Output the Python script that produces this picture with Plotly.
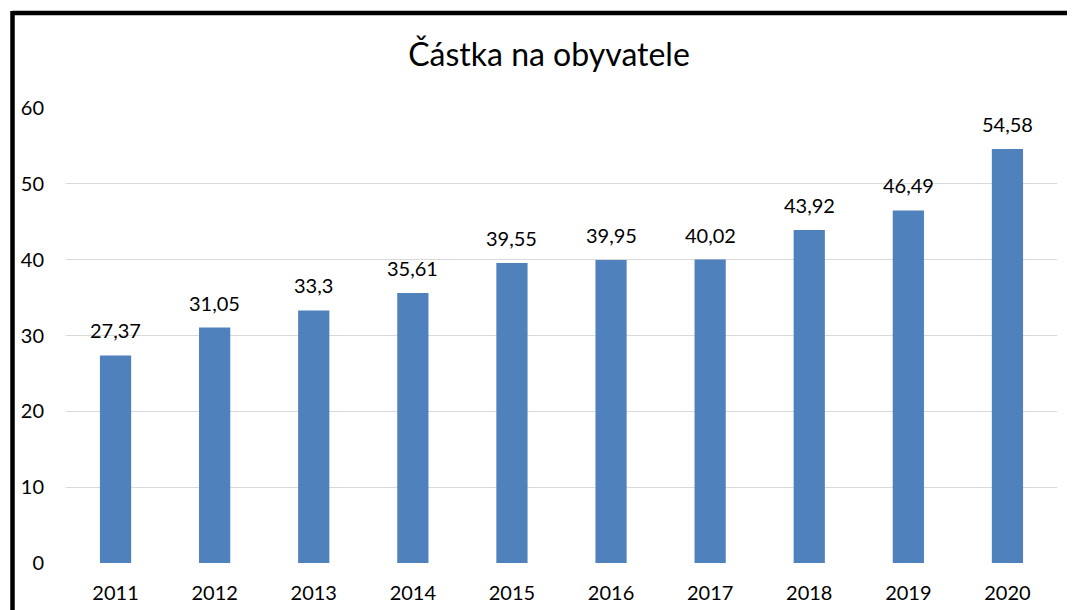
import plotly.graph_objects as go

years = ["2011", "2012", "2013", "2014", "2015", "2016", "2017", "2018", "2019", "2020"]
values = [27.37, 31.05, 33.3, 35.61, 39.55, 39.95, 40.02, 43.92, 46.49, 54.58]
labels = [str(v).replace(".", ",") for v in values]
title_text = "Částka na obyvatele"

# page body has an 8px margin, so figure coordinates = screen - 8
OFF = 8
W, H = 1075 - OFF, 610 - OFF
L, R, T, B = 66 - OFF, 1057 - OFF, 108 - OFF, 563 - OFF
FONT = "Lato, 'Open Sans', sans-serif"

fig = go.Figure()
fig.add_trace(go.Bar(
    x=years, y=values,
    marker=dict(color="#4F81BD", line=dict(width=0)),
    hoverinfo="x+y",
))

# value labels above the bars (x given as category index)
for i, (v, t) in enumerate(zip(values, labels)):
    fig.add_annotation(x=i, y=v, xref="x", yref="y", text=t, showarrow=False,
                       yanchor="bottom", yshift=11,
                       font=dict(family=FONT, size=20, color="#000000"))

def px_x(p):
    return (p - OFF - L) / (R - L)

def px_y(p):
    return (B - (p - OFF)) / (B - T)

# black frame lines (left and top)
fig.add_shape(type="line", xref="paper", yref="paper",
              x0=px_x(12.5), x1=px_x(1075 + 5), y0=px_y(13), y1=px_y(13),
              line=dict(color="#000000", width=4.5))
fig.add_shape(type="line", xref="paper", yref="paper",
              x0=px_x(12.5), x1=px_x(12.5), y0=px_y(11), y1=px_y(615),
              line=dict(color="#000000", width=4.5))

fig.update_layout(
    width=W, height=H,
    margin=dict(l=L, r=W - R, t=T, b=H - B, pad=0, autoexpand=False),
    paper_bgcolor="#ffffff", plot_bgcolor="#ffffff",
    bargap=0.685,
    showlegend=False,
    font=dict(family=FONT, size=20, color="#000000"),
    title=dict(text=title_text, x=(549 - OFF) / W, xanchor="center", xref="container",
               y=1 - (55 - OFF) / H, yanchor="middle", yref="container",
               font=dict(family=FONT, size=32, color="#000000")),
    xaxis=dict(type="category", range=[-0.5, len(years) - 0.5], showgrid=False,
               zeroline=False, showline=False, ticks="",
               tickfont=dict(size=20), ticklabelstandoff=16, automargin=False),
    yaxis=dict(range=[0, 60], dtick=10, showgrid=True, gridcolor="#d9d9d9",
               gridwidth=1.3, zeroline=False, showline=False, ticks="",
               tickfont=dict(size=20), ticklabelstandoff=21, automargin=False),
)

fig.write_html("out.html")
